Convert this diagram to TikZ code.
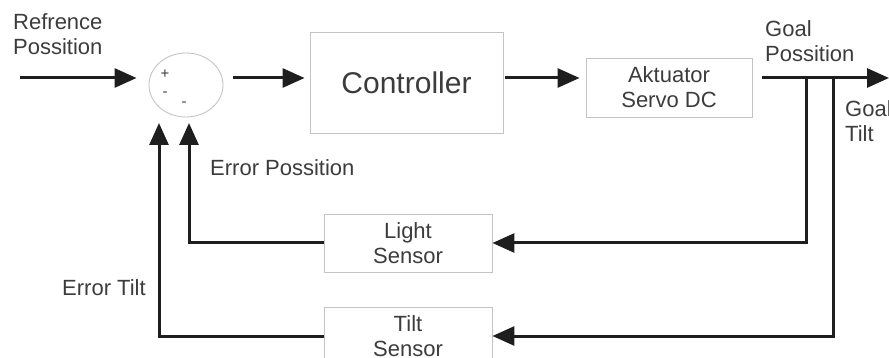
\documentclass[tikz,border=0pt]{standalone}
\usepackage{fontspec}
\setmainfont{Liberation Sans}
\usetikzlibrary{shapes.geometric,arrows.meta}
\definecolor{txtgray}{HTML}{3C3C3C}
\definecolor{boxgray}{HTML}{C4C4C4}
\definecolor{linegray}{HTML}{1E1E1E}

\begin{document}
\begin{tikzpicture}[x=1pt, y=-1pt,
    blok/.style={draw=boxgray, line width=0.9pt, text=txtgray, align=center,
      font=\fontsize{22}{25}\selectfont},
    lbl/.style={text=txtgray, align=left, inner sep=0pt,
      font=\fontsize{22}{25}\selectfont},
    sgn/.style={text=txtgray, inner sep=0pt, font=\fontsize{15}{15}\selectfont},
    arr/.style={draw=linegray, line width=3pt, -{Triangle[length=22pt,width=19pt]}}]
      \clip (0,0) rectangle (889,358);
      % Sum
      \node[ellipse, draw=boxgray, line width=0.9pt, minimum width=74pt, minimum height=64pt] (sum) at (186,85) {};
      \node[sgn] (plus) at (165,74) {+};
      \node[sgn] (minA) at (165,94) {-};
      \node[sgn] (minB) at (184,104) {-};
      % Blocks
      \node[blok, minimum width=193pt, minimum height=101pt, font=\fontsize{30}{30}\selectfont] (ctrl) at (406.5,82.5) {Controller};
      \node[blok, minimum width=166pt, minimum height=59pt] (akt) at (669,87.5) {Aktuator\\Servo DC};
      \node[blok, minimum width=168pt, minimum height=58pt] (light) at (408,243) {Light\\Sensor};
      \node[blok, minimum width=168pt, minimum height=58pt] (tilt) at (408,336) {Tilt\\Sensor};
      % Labels
      \node[lbl, anchor=north west] (ref) at (13,13) {Refrence\\Possition};
      \node[lbl, anchor=north west] (gpos) at (765,20) {Goal\\Possition};
      \node[lbl, anchor=north west] (gtilt) at (845,100) {Goal\\Tilt};
      \node[lbl, anchor=west] (epos) at (210,168) {Error Possition};
      \node[lbl, anchor=west] (etilt) at (62,288) {Error Tilt};
      % Forward path
      \coordinate (in) at (20,78);
      \coordinate (out) at (889,78);
      \coordinate (b1) at (806,78);
      \coordinate (b2) at (833,78);
      \draw[arr, shorten >=12pt] (in) -- (sum.west |- in);
      \draw[arr, shorten <=10pt, shorten >=5pt] (sum.east |- in) -- (ctrl.west |- in);
      \draw[arr, shorten <=2pt, shorten >=6pt] (ctrl.east |- in) -- (akt.west |- in);
      \draw[arr, shorten <=10pt] (akt.east |- in) -- (out);
      % Feedback
      \coordinate (e1) at (189,123);
      \coordinate (e2) at (159,123);
      \draw[arr] (b1) |- (light.east);
      \draw[arr] (b2) |- (tilt.east);
      \draw[arr] (light.west) -| (e1);
      \draw[arr] (tilt.west) -| (e2);
\end{tikzpicture}
\end{document}
